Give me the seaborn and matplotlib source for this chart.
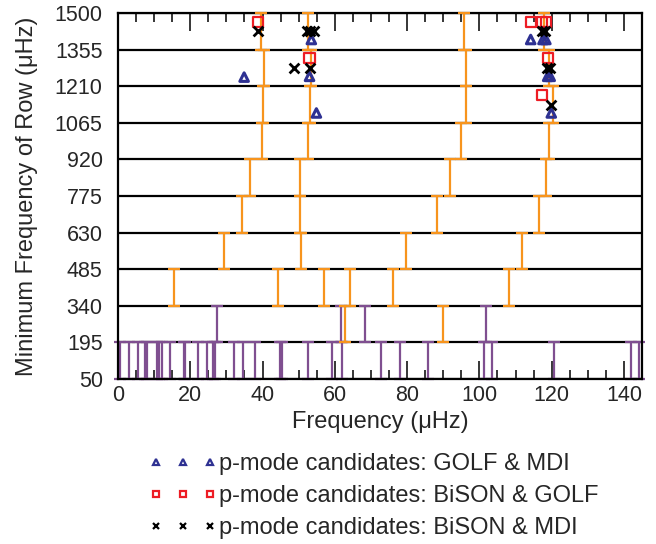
import numpy as np
import pandas as pd
import matplotlib
matplotlib.use('Agg')
import matplotlib.pyplot as plt
from matplotlib.lines import Line2D
from matplotlib.ticker import MultipleLocator
import seaborn as sns

sns.set_style('ticks')
plt.rcParams['font.family'] = ['Liberation Sans', 'DejaVu Sans']

orange = '#f7941d'
purple = '#7f4f90'
navy = '#2e3192'
red = '#ed1c24'

row_step = 145
row_edges = [50, 195, 340, 485, 630, 775, 920, 1065, 1210, 1355, 1500]

# orange I-bars: row minimum and frequency within row
orange_row = ([195] * 2 + [340] * 6 + [485] * 4 + [630] * 4 + [775] * 4
              + [920] * 4 + [1065] * 4 + [1210] * 4 + [1355] * 4)
orange_freq = [62.8, 89.9,
               15.6, 44.2, 56.9, 64.2, 76.1, 108.2,
               29.4, 50.7, 79.6, 111.7,
               34.3, 50.5, 88.4, 116.4,
               36.6, 50.3, 91.8, 118.5,
               39.8, 52.6, 94.8, 119.2,
               40.1, 53.0, 96.4, 120.3,
               40.5, 53.3, 96.4, 119.2,
               39.7, 52.6, 95.7, 117.8]

# purple I-bars (low-frequency rows)
purple_freq_row0 = [0.5, 3.0, 5.4, 7.6, 8.1, 10.8, 11.4, 12.3, 14.3, 18.2, 18.6,
                    22.2, 24.6, 26.2, 26.8, 32.0, 34.6, 37.9, 44.7, 45.4, 52.6,
                    59.2, 61.9, 72.8, 78.0, 85.7, 101.4, 103.4, 120.7, 142.0, 144.2]
purple_freq_row1 = [27.5, 61.6, 68.3, 101.7]

golf_mdi_x = [34.9, 53.5, 53.0, 54.9, 114.2, 117.6, 118.4, 118.9, 119.6, 119.9]
golf_mdi_y = [1246, 1395, 1249, 1104, 1395, 1395, 1395, 1249, 1249, 1104]

bison_golf_x = [38.7, 53.0, 114.2, 117.4, 118.5, 119.0, 117.4]
bison_golf_y = [1464, 1321, 1464, 1464, 1464, 1321, 1174]

bison_mdi_x = [38.7, 52.2, 53.2, 54.2, 48.7, 53.0, 117.3, 118.2, 118.8, 119.6, 119.9]
bison_mdi_y = [1429, 1429, 1429, 1429, 1282, 1282, 1429, 1429, 1282, 1282, 1137]

labels = ['p-mode candidates: GOLF & MDI',
          'p-mode candidates: BiSON & GOLF',
          'p-mode candidates: BiSON & MDI']

fig = plt.figure(figsize=(6.56, 5.44), dpi=100)
ax = fig.add_axes([118 / 656, 1 - 379 / 544, 524 / 656, 366 / 544])

# row grid lines
for e in row_edges:
    ax.axhline(e, color='black', lw=1.6, zorder=1)

bars_o = pd.DataFrame({'x': orange_freq, 'y': np.array(orange_row) + row_step / 2})
ax.errorbar(bars_o['x'], bars_o['y'], yerr=row_step / 2, fmt='none', ecolor=orange,
            elinewidth=1.6, capsize=4.5, capthick=1.6, zorder=3, clip_on=False)

purple_x = purple_freq_row0 + purple_freq_row1
purple_y = [50 + row_step / 2] * len(purple_freq_row0) + [195 + row_step / 2] * len(purple_freq_row1)
ax.errorbar(purple_x, purple_y, yerr=row_step / 2, fmt='none', ecolor=purple,
            elinewidth=1.6, capsize=4.5, capthick=1.6, zorder=2, clip_on=False)

sns.scatterplot(x=golf_mdi_x, y=golf_mdi_y, ax=ax, marker='^', s=38,
                color=navy, facecolor='none', edgecolor=navy, linewidth=2.2, zorder=5)
sns.scatterplot(x=bison_golf_x, y=bison_golf_y, ax=ax, marker='s', s=55,
                color=red, facecolor='none', edgecolor=red, linewidth=1.6, zorder=5)
sns.scatterplot(x=bison_mdi_x, y=bison_mdi_y, ax=ax, marker='x', s=50,
                color='black', edgecolor='black', linewidth=2, zorder=6)

ax.set_xlim(0, 145)
ax.set_ylim(50, 1500)
ax.set_yticks(row_edges)
ax.xaxis.set_major_locator(MultipleLocator(20))
ax.xaxis.set_minor_locator(MultipleLocator(5))
ax.tick_params(axis='x', which='major', direction='in', top=True, length=13,
               width=1.3, labelsize=15.5, pad=4)
ax.tick_params(axis='x', which='minor', direction='in', top=True, length=6.5, width=1.3)
ax.tick_params(axis='y', direction='in', length=0, labelsize=15.5, pad=11)
for s in ax.spines.values():
    s.set_linewidth(1.6)
    s.set_color('black')

ax.set_xlabel('Frequency (\u03bcHz)', fontsize=17, labelpad=4)
ax.set_ylabel('Minimum Frequency of Row (\u03bcHz)', fontsize=17, labelpad=12)

handles = [
    Line2D([], [], ls='none', marker='^', ms=5, mfc='none', mec=navy, mew=1.6),
    Line2D([], [], ls='none', marker='s', ms=5, mfc='none', mec=red, mew=1.6),
    Line2D([], [], ls='none', marker='x', ms=5, mec='black', mew=1.6),
]
fig.legend(handles, labels, loc='upper left', bbox_to_anchor=(149 / 656, 1 - 453 / 544),
           frameon=False, numpoints=3, handlelength=2.9, handletextpad=0.05,
           fontsize=17, labelspacing=0.43, borderpad=0, borderaxespad=0)

fig.savefig('out.png', dpi=100)
